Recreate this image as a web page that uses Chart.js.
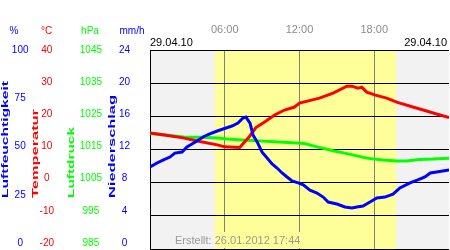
<!DOCTYPE html>
<html><head><meta charset="utf-8">
<script src="https://cdn.jsdelivr.net/npm/chart.js@4/dist/chart.umd.min.js"></script>
<style>html,body{margin:0;padding:0;background:#fff}canvas{display:block}</style>
</head><body>
<canvas id="c" width="450" height="250"></canvas>
<script>
// ---- data ----
const dateLabel = '29.04.10';
const createdLabel = 'Erstellt: 26.01.2012 17:44';
const timeTicks = [6, 12, 18];
const daylight = [5.2, 19.75];

const humTicks = [0, 25, 50, 75, 100];
const tempTicks = [-20, -10, 0, 10, 20, 30, 40];
const pressTicks = [985, 995, 1005, 1015, 1025, 1035, 1045];
const rainTicks = [0, 4, 8, 12, 16, 20, 24];

const humHours = [0, 0.56, 1.04, 1.6, 2.0, 2.57, 2.97, 3.37, 3.77, 4.25, 4.8, 5.4, 5.86, 6.58, 7.06, 7.46, 7.7, 8.03, 8.27, 8.6, 9.0, 9.4, 9.8, 10.2, 10.6, 11.0, 11.4, 11.9, 12.3, 12.84, 13.4, 13.9, 14.3, 15.0, 15.65, 16.2, 16.6, 17.1, 17.66, 18.2, 18.86, 19.5, 20.06, 20.87, 21.5, 22.07, 22.5, 23.0, 24.0];
const humValues = [41.2, 43.2, 44.7, 46.2, 48.2, 48.7, 51.3, 52.8, 54.3, 56.3, 57.8, 59.3, 60.3, 61.8, 63.3, 65.8, 66.3, 63.3, 57.3, 53.8, 48.7, 45.7, 42.7, 40.7, 38.2, 36.2, 34.2, 33.2, 32.2, 29.6, 28.1, 26.1, 23.6, 22.6, 21.1, 20.6, 21.1, 21.6, 23.6, 25.6, 26.1, 27.6, 30.7, 33.2, 34.7, 36.2, 38.2, 38.7, 39.7];

const tempHours = [0, 1.3, 2.65, 4.0, 5.4, 6.0, 7.2, 8.0, 8.5, 9.2, 10.0, 10.8, 11.6, 12.0, 13.6, 14.7, 15.8, 16.2, 16.7, 17.0, 17.4, 18.1, 19.0, 19.8, 21.1, 22.2, 23.0, 24.0];
const tempValues = [15.0, 14.3, 13.5, 12.4, 11.4, 10.8, 10.6, 14.0, 16.6, 18.3, 20.4, 21.9, 22.8, 24.0, 25.5, 27.0, 29.1, 29.1, 28.5, 28.8, 27.3, 26.4, 25.5, 24.3, 22.8, 21.6, 20.7, 19.6];

const pressHours = [0, 1.4, 2.7, 4.0, 5.4, 6.2, 7.4, 8.7, 10.0, 11.4, 12.4, 13.4, 14.7, 16.0, 17.4, 18.7, 19.8, 20.6, 21.6, 22.7, 24.0];
const pressValues = [1019.8, 1019.3, 1018.8, 1018.7, 1018.5, 1018.2, 1017.9, 1017.6, 1017.3, 1017.0, 1016.8, 1015.8, 1014.6, 1013.6, 1012.4, 1011.8, 1011.5, 1011.5, 1012.0, 1012.1, 1012.4];

// ---- styling ----
const FONT = "'Liberation Sans', Arial, sans-serif";
const BLUE = '#0000ff', RED = '#ff0000', GREEN = '#00ff00';
Chart.defaults.font.family = FONT;

function pts(xs, ys) { return xs.map((h, i) => ({x: h, y: ys[i]})); }

function yAxis(tickArr, color, weight, width, pad, grid) {
  return {
    type: 'linear', position: 'left', weight,
    min: tickArr[0], max: tickArr[tickArr.length - 1],
    afterBuildTicks: s => { s.ticks = tickArr.map(v => ({value: v})); },
    afterFit: s => { s.width = width; s.paddingTop = 0; s.paddingBottom = 0; },
    grid: grid ? {display: true, color: '#000', lineWidth: 1, drawTicks: false} : {display: false, drawTicks: false},
    border: {display: false},
    ticks: {color, font: {size: 10}, crossAlign: 'center', padding: pad, autoSkip: false,
            callback: v => String(v)}
  };
}

const titles = [
  {axis: 'yH', text: 'Luftfeuchtigkeit', color: BLUE, dx: 5.5, len: 117},
  {axis: 'yT', text: 'Temperatur', color: RED, dx: 3.5, len: 89},
  {axis: 'yP', text: 'Luftdruck', color: GREEN, dx: 4, len: 71},
  {axis: 'yN', text: 'Niederschlag', color: BLUE, dx: 4, len: 103}
];
const units = [
  {axis: 'yH', text: '%', color: BLUE, cx: 14},
  {axis: 'yT', text: '°C', color: RED, cx: 46.5},
  {axis: 'yP', text: 'hPa', color: GREEN, cx: 90},
  {axis: 'yN', text: 'mm/h', color: BLUE, cx: 132}
];

const decor = {
  id: 'decor',
  beforeDraw(chart) {
    const {ctx, chartArea: a, scales} = chart;
    ctx.save();
    ctx.fillStyle = '#fff'; ctx.fillRect(0, 0, chart.width, chart.height);
    ctx.fillStyle = '#f2f2f2'; ctx.fillRect(a.left, a.top, a.right - a.left, a.bottom - a.top);
    const x0 = scales.x.getPixelForValue(daylight[0]), x1 = scales.x.getPixelForValue(daylight[1]);
    ctx.fillStyle = '#ffff99'; ctx.fillRect(x0, a.top, x1 - x0, a.bottom - a.top);
    ctx.restore();
    // shift y tick labels slightly upward towards the bottom (as in reference)
    for (const id of ['yH', 'yT', 'yP', 'yN']) {
      const s = scales[id];
      try {
        const items = s.getLabelItems();
        if (items._shifted) continue;
        items.forEach((it, i) => {
          const v = s.ticks[i].value;
          const frac = (v - s.min) / (s.max - s.min);
          it.options.translation[1] += -6 * (1 - frac);
        });
        items._shifted = true;
      } catch (e) {}
    }
  },
  beforeDatasetsDraw(chart) {
    const {ctx, chartArea: a, scales} = chart;
    ctx.save();
    ctx.strokeStyle = '#000'; ctx.lineWidth = 1;
    ctx.beginPath(); ctx.moveTo(a.left + 0.5, a.top); ctx.lineTo(a.left + 0.5, a.bottom + 1); ctx.stroke();
    const x0 = scales.x.getPixelForValue(daylight[0]);
    const bx = a.left + 22, by = a.bottom - 17, bw = 128, bh = 16;
    ctx.fillStyle = '#f2f2f2'; ctx.fillRect(bx, by, x0 - bx, bh);
    ctx.fillStyle = '#ffff99'; ctx.fillRect(x0, by, bx + bw - x0, bh);
    ctx.fillStyle = '#999999'; ctx.font = '11px ' + FONT;
    ctx.textAlign = 'left'; ctx.textBaseline = 'middle';
    ctx.fillText(createdLabel, a.left + 25, a.bottom - 8.5);
    ctx.restore();
  },
  afterDraw(chart) {
    const {ctx, chartArea: a, scales} = chart;
    ctx.save();
    ctx.fillStyle = '#000'; ctx.font = '11px ' + FONT; ctx.textBaseline = 'middle';
    ctx.textAlign = 'left'; ctx.fillText(dateLabel, a.left, a.top - 7);
    ctx.textAlign = 'right'; ctx.fillText(dateLabel, a.right - 2, a.top - 7);
    ctx.font = '10px ' + FONT; ctx.textAlign = 'center';
    units.forEach(u => { ctx.fillStyle = u.color; ctx.fillText(u.text, u.cx, 31); });
    ctx.font = 'bold 9px ' + FONT;
    titles.forEach(t => {
      const s = scales[t.axis];
      const w = ctx.measureText(t.text).width;
      ctx.save();
      ctx.translate(s.left + t.dx, a.bottom - 51);
      ctx.rotate(-Math.PI / 2);
      ctx.scale(t.len / w, 1);
      ctx.fillStyle = t.color; ctx.textAlign = 'left'; ctx.textBaseline = 'middle';
      ctx.fillText(t.text, 0, 0);
      ctx.restore();
    });
    ctx.restore();
  }
};

new Chart(document.getElementById('c'), {
  type: 'line',
  data: {
    datasets: [
      {label: 'Luftfeuchtigkeit', data: pts(humHours, humValues), yAxisID: 'yH', borderColor: BLUE},
      {label: 'Temperatur', data: pts(tempHours, tempValues), yAxisID: 'yT', borderColor: RED},
      {label: 'Luftdruck', data: pts(pressHours, pressValues), yAxisID: 'yP', borderColor: GREEN}
    ]
  },
  options: {
    responsive: false, animation: false, devicePixelRatio: 1,
    layout: {padding: {left: 0, top: 0, right: 1, bottom: 1}},
    elements: {line: {borderWidth: 3, tension: 0, fill: false}, point: {radius: 0}},
    plugins: {legend: {display: false}, tooltip: {enabled: false}},
    scales: {
      x: {
        type: 'linear', position: 'top', min: 0, max: 24,
        afterBuildTicks: s => { s.ticks = timeTicks.map(v => ({value: v})); },
        afterFit: s => { s.height = 50; s.paddingLeft = 0; s.paddingRight = 0; },
        grid: {color: '#808080', lineWidth: 1, drawTicks: false},
        border: {display: false},
        ticks: {color: '#8c8c8c', font: {size: 11}, padding: 13, maxRotation: 0, autoSkip: false,
                callback: v => String(v).padStart(2, '0') + ':00'}
      },
      yH: yAxis(humTicks, BLUE, 4, 32, 3.5, false),
      yT: yAxis(tempTicks, RED, 3, 36, 14, true),
      yP: yAxis(pressTicks, GREEN, 2, 41, 7, false),
      yN: yAxis(rainTicks, BLUE, 1, 41, 20, false)
    }
  },
  plugins: [decor]
});
</script>
</body></html>
